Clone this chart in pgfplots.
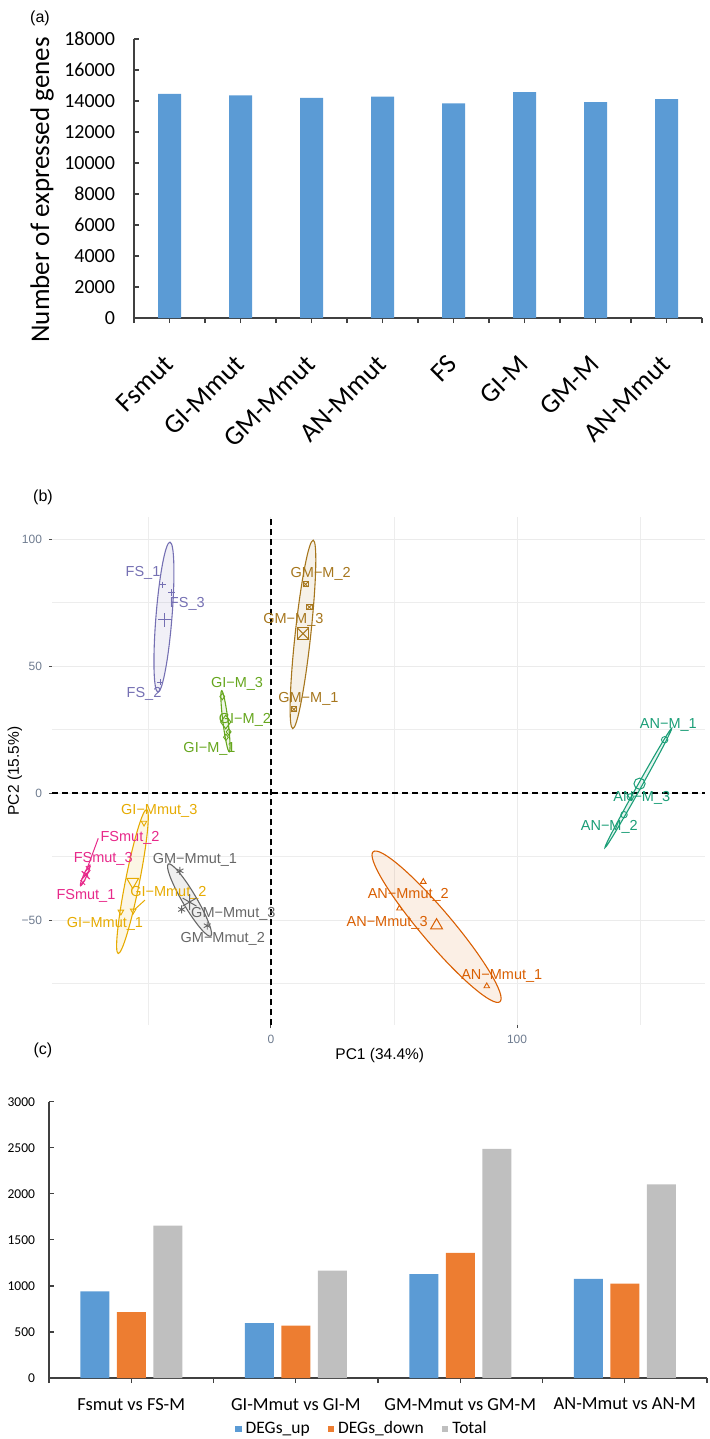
\documentclass[border=0pt]{standalone}
\usepackage{fontspec}
\setmainfont{Carlito}
\newfontfamily\arial{Liberation Sans}
\usepackage{pgfplots}
\pgfplotsset{compat=1.18}
\newcommand\fs[1]{\fontsize{#1}{#1}\selectfont}

\definecolor{barblue}{HTML}{5B9BD5}
\definecolor{barorange}{HTML}{ED7D31}
\definecolor{bargrey}{HTML}{BFBFBF}
\definecolor{axgrey}{HTML}{404040}
\definecolor{pcatick}{HTML}{6E7B8F}
% Dark2 palette, groups in alphabetical order
\definecolor{cANM}{HTML}{1B9E77}
\definecolor{cANMmut}{HTML}{D95F02}
\definecolor{cFS}{HTML}{7570B3}
\definecolor{cFSmut}{HTML}{E7298A}
\definecolor{cGIM}{HTML}{66A61E}
\definecolor{cGIMmut}{HTML}{E6AB02}
\definecolor{cGMM}{HTML}{A6761D}
\definecolor{cGMMmut}{HTML}{666666}

\pgfplotsset{
  smallpt/.style={only marks, mark size=1.6pt, every mark/.append style={line width=0.45pt}},
  bigpt/.style={only marks, mark size=3.4pt, every mark/.append style={line width=0.5pt}},
}
\tikzset{
  ell/.style={draw=#1, fill=#1, fill opacity=0.1, line width=0.55pt},
  lab/.style={font=\arial\fs{7.25}, text=#1, inner sep=0pt},
}

\begin{document}
\begin{tikzpicture}
\useasboundingbox (0pt,0pt) rectangle (354.5pt,-719.5pt);

% panel labels
\node[font=\arial\fs{8}] at (20pt,-9pt) {(a)};
\node[font=\arial\fs{8}] at (21.5pt,-248.5pt) {(b)};
\node[font=\arial\fs{8}] at (21.5pt,-525pt) {(c)};

% ---------------- (a) expressed genes
\begin{axis}[
  at={(67pt,-159pt)}, anchor=south west,
  scale only axis, width=284pt, height=139.5pt,
  xmin=-0.5, xmax=7.5, ymin=0, ymax=18000,
  axis x line*=bottom, axis y line*=left,
  axis line style={axgrey, line width=0.6pt},
  tick align=inside, major tick length=2.5pt, minor tick length=2.5pt,
  tick style={axgrey, line width=0.6pt},
  ybar, bar width=11.5pt,
  xtick={0,...,7},
  minor xtick={-0.5,0.5,...,7.5},
  xticklabels={Fsmut,GI-Mmut,GM-Mmut,AN-Mmut,FS,GI-M,GM-M,AN-Mmut},
  xticklabel style={font=\fs{13.5}, yshift=-16pt, xshift=2pt, rotate=45, anchor=east},
  ytick={0,2000,...,18000},
  scaled y ticks=false,
  yticklabel style={font=\fs{10}, xshift=-6pt},
  /pgf/number format/1000 sep={},
  /pgf/number format/assume math mode=true,
  ylabel={Number of expressed genes},
  ylabel style={font=\fs{13.5}, at={(axis description cs:-0.162,0.459)}, anchor=center},
]
\addplot[fill=barblue, draw=none] coordinates {
  (0,14460) (1,14370) (2,14200) (3,14290) (4,13840) (5,14570) (6,13920) (7,14120)};
\end{axis}

% ---------------- (b) PCA
\begin{axis}[
  at={(26pt,-512.5pt)}, anchor=south west,
  scale only axis, width=326.5pt, height=254pt,
  xmin=-89, xmax=176.4, ymin=-91.3, ymax=108.7,
  clip=false,
  axis line style={draw=none},
  xtick={0,100}, xticklabels={0,100},
  ytick={-50,0,50,100}, yticklabels={−50,0,50,100},
  minor xtick={-50,50,150}, minor ytick={-75,-25,25,75},
  grid=both, grid style={black!8, line width=0.5pt},
  minor grid style={black!7, line width=0.45pt},
  tick pos=left, tick align=outside,
  major tick length=1.5pt, minor tick length=0pt,
  tick style={black!70, line width=0.5pt},
  ticklabel style={font=\arial\fs{6}, text=pcatick},
  xlabel={PC1 (34.4\%)}, ylabel={PC2 (15.5\%)},
  xlabel style={font=\arial\fs{7.75}, at={(axis description cs:0.502,-0.059)}, anchor=center},
  ylabel style={font=\arial\fs{7.75}, at={(axis description cs:-0.057,0.5)}, anchor=center},
]
% zero lines
\draw[black, line width=0.9pt, dash pattern=on 3pt off 2pt] (axis cs:0,-91.3) -- (axis cs:0,108.7);
\draw[black, line width=0.9pt, dash pattern=on 3pt off 2pt] (axis cs:-89,0) -- (axis cs:176.4,0);

% confidence ellipses
\draw[ell=cFS]     (axis cs:-43.5,69.3)  ellipse [x radius=37.6pt, y radius=4pt,   rotate=85.4];
\draw[ell=cGIM]    (axis cs:-18.5,28.3)  ellipse [x radius=15.4pt, y radius=1.3pt, rotate=97.1];
\draw[ell=cGMM]    (axis cs:13.0,62.5)   ellipse [x radius=47.4pt, y radius=3.9pt, rotate=83.8];
\draw[ell=cGIMmut] (axis cs:-56.3,-34.8) ellipse [x radius=36.7pt, y radius=3.5pt, rotate=78.8];
\draw[ell=cFSmut]  (axis cs:-75.5,-32.4) ellipse [x radius=5.7pt,  y radius=0.8pt, rotate=65.8];
\draw[ell=cGMMmut] (axis cs:-33.1,-42.1) ellipse [x radius=20.9pt, y radius=3.5pt, rotate=120.5];
\draw[ell=cANMmut] (axis cs:67.3,-52.6)  ellipse [x radius=49.1pt, y radius=8pt,   rotate=130.2];
\draw[ell=cANM]    (axis cs:149.3,2.0)   ellipse [x radius=34.2pt, y radius=1pt,   rotate=60.8];

% samples and group means
\addplot[smallpt, cFS, mark=+] coordinates {(-44,82) (-40.4,79) (-45,43.7)};
\addplot[bigpt, cFS, mark=+] coordinates {(-43.1,68.2)};
\addplot[smallpt, cGIM, mark=diamond] coordinates {(-19.8,38) (-17.2,24.1) (-18.3,22)};
\addplot[bigpt, cGIM, mark=diamond] coordinates {(-18.4,28)};
\addplot[smallpt, cGMM, mark=square, mark size=1.3pt] coordinates {(14.1,82.2) (15.6,73.2) (9.3,33)};
\addplot[smallpt, cGMM, mark=x, mark size=1.8pt] coordinates {(14.1,82.2) (15.6,73.2) (9.3,33)};
\addplot[bigpt, cGMM, mark=square, mark size=2.8pt] coordinates {(13,62.8)};
\addplot[bigpt, cGMM, mark=x, mark size=3.9pt] coordinates {(13,62.8)};
\addplot[smallpt, cGIMmut, mark=triangle, every mark/.append style={rotate=180}] coordinates {(-51.6,-11.7) (-61,-46.7) (-56,-46.3)};
\addplot[bigpt, cGIMmut, mark=triangle, every mark/.append style={rotate=180}] coordinates {(-56.2,-34.9)};
\addplot[smallpt, cFSmut, mark=x] coordinates {(-74.3,-29.7) (-75.2,-31.9) (-76.5,-35.2)};
\addplot[bigpt, cFSmut, mark=x, mark size=2.8pt] coordinates {(-75.3,-32.3)};
\addplot[smallpt, cGMMmut, mark=asterisk, mark size=2pt] coordinates {(-37,-30.6) (-36.3,-45.8) (-25.9,-52.2)};
\addplot[bigpt, cGMMmut, mark=asterisk, mark size=4pt] coordinates {(-33.1,-42.9)};
\addplot[smallpt, cANMmut, mark=triangle] coordinates {(61.9,-34.9) (52.2,-45.4) (87.7,-76)};
\addplot[bigpt, cANMmut, mark=triangle] coordinates {(67.3,-52.1)};
\addplot[smallpt, cANM, mark=o] coordinates {(160,21) (146,-1.5) (143.5,-8.5)};
\addplot[bigpt, cANM, mark=o, mark size=2.8pt] coordinates {(149.8,3.7)};

% label leader segments
\draw[cFSmut, line width=0.5pt] (axis cs:-70.2,-17.8) -- (axis cs:-74.7,-29.6);
\draw[cGIMmut, line width=0.5pt] (axis cs:-51.2,-42.1) -- (axis cs:-55.3,-45.7);

% sample labels
\node[lab=cFS] at (axis cs:-52,86.6) {FS\_1};
\node[lab=cFS] at (axis cs:-34,74.4) {FS\_3};
\node[lab=cFS] at (axis cs:-51.6,39) {FS\_2};
\node[lab=cGIM] at (axis cs:-13.8,43) {GI−M\_3};
\node[lab=cGIM] at (axis cs:-10.6,28.7) {GI−M\_2};
\node[lab=cGIM] at (axis cs:-25,17.3) {GI−M\_1};
\node[lab=cGMM] at (axis cs:20.2,86.5) {GM−M\_2};
\node[lab=cGMM] at (axis cs:9.1,68.1) {GM−M\_3};
\node[lab=cGMM] at (axis cs:15.2,37) {GM−M\_1};
\node[lab=cGIMmut] at (axis cs:-45.4,-7) {GI−Mmut\_3};
\node[lab=cGIMmut] at (axis cs:-41.7,-39.2) {GI−Mmut\_2};
\node[lab=cGIMmut] at (axis cs:-67.5,-51.3) {GI−Mmut\_1};
\node[lab=cFSmut] at (axis cs:-57.3,-17.5) {FSmut\_2};
\node[lab=cFSmut] at (axis cs:-68.2,-25.7) {FSmut\_3};
\node[lab=cFSmut] at (axis cs:-75.2,-40.5) {FSmut\_1};
\node[lab=cGMMmut] at (axis cs:-30.9,-26.1) {GM−Mmut\_1};
\node[lab=cGMMmut] at (axis cs:-15.3,-47.6) {GM−Mmut\_3};
\node[lab=cGMMmut] at (axis cs:-19.6,-57.2) {GM−Mmut\_2};
\node[lab=cANMmut] at (axis cs:55.8,-40.2) {AN−Mmut\_2};
\node[lab=cANMmut] at (axis cs:47.2,-51.2) {AN−Mmut\_3};
\node[lab=cANMmut] at (axis cs:93.8,-72) {AN−Mmut\_1};
\node[lab=cANM] at (axis cs:161.5,26.8) {AN−M\_1};
\node[lab=cANM] at (axis cs:150.7,-1.7) {AN−M\_3};
\node[lab=cANM] at (axis cs:137.5,-13.3) {AN−M\_2};
\end{axis}

% ---------------- (c) DEGs
\begin{axis}[
  at={(24.5pt,-689pt)}, anchor=south west,
  scale only axis, width=329pt, height=138.15pt,
  xmin=-0.5, xmax=3.5, ymin=0, ymax=3000,
  axis x line*=bottom, axis y line*=left,
  axis line style={axgrey, line width=0.6pt},
  tick align=inside, major tick length=2.5pt, minor tick length=2.5pt,
  tick style={axgrey, line width=0.6pt},
  ybar=3.75pt, bar width=14.5pt,
  xtick={0,...,3}, minor xtick={-0.5,0.5,...,3.5},
  xticklabels={Fsmut vs FS-M, GI-Mmut vs GI-M, GM-Mmut vs GM-M, AN-Mmut vs AN-M},
  xticklabel style={font=\fs{9.2}, yshift=-4pt},
  ytick={0,500,...,3000},
  scaled y ticks=false,
  yticklabel style={font=\fs{6.75}, xshift=-3.5pt},
  /pgf/number format/1000 sep={},
  /pgf/number format/assume math mode=true,
  legend style={at={(axis description cs:0.477,-0.185)}, anchor=center,
    draw=none, fill=none, legend columns=3, font=\fs{8.75},
    /tikz/every even column/.append style={column sep=7pt}},
  legend image code/.code={\draw[#1, draw=none] (0pt,-1.6pt) rectangle (3.2pt,1.6pt);},
]
\addplot[fill=barblue, draw=none] coordinates {(0,940) (1,595) (2,1128) (3,1077)};
\addlegendentry{DEGs\_up}
\addplot[fill=barorange, draw=none] coordinates {(0,715) (1,570) (2,1360) (3,1025)};
\addlegendentry{DEGs\_down}
\addplot[fill=bargrey, draw=none] coordinates {(0,1655) (1,1165) (2,2488) (3,2102)};
\addlegendentry{Total}
\end{axis}
\end{tikzpicture}
\end{document}
